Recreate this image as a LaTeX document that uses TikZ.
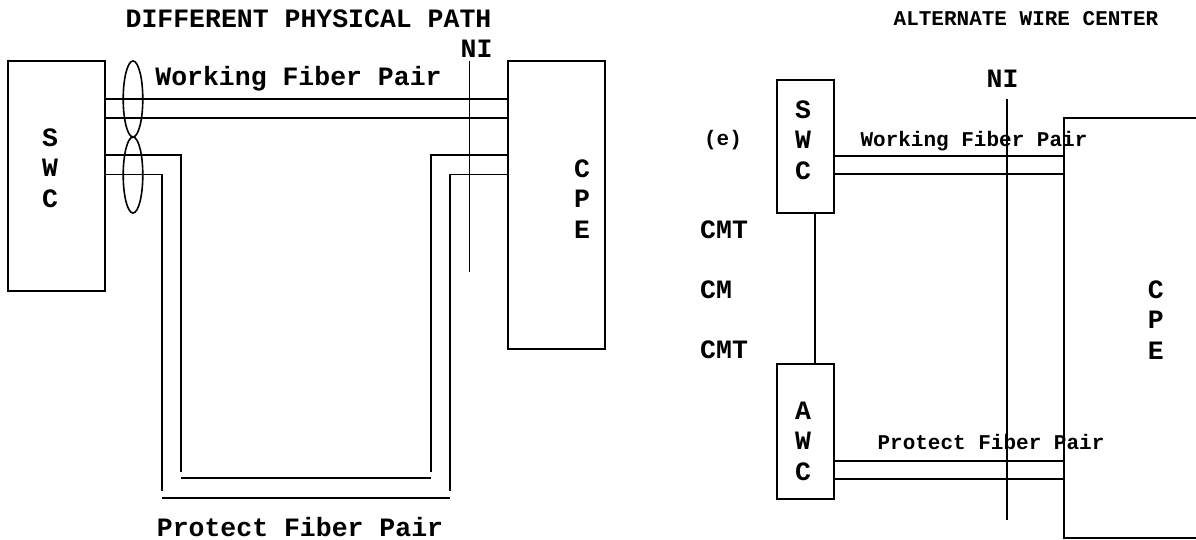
\documentclass[tikz,border=0pt]{standalone}
\usepackage{fontspec}
\setmonofont{Liberation Mono}
\usetikzlibrary{shapes.geometric,calc}

\begin{document}
\begin{tikzpicture}[x=1pt,y=-1pt]
    \tikzstyle{unit} = [rectangle, draw=black, line width=1.8pt, inner sep=0pt]
    \tikzstyle{bundle} = [ellipse, draw=black, line width=1.6pt, inner sep=0pt, minimum width=19.6pt, minimum height=76pt]
    \tikzstyle{fiber} = [line width=1.7pt]
    \tikzstyle{letters} = [align=center, inner sep=0pt, font=\ttfamily\bfseries\fontsize{26.5}{30.5}\selectfont]
    \tikzstyle{big} = [inner sep=0pt, font=\ttfamily\bfseries\fontsize{26.5}{30.5}\selectfont]
    \tikzstyle{small} = [inner sep=0pt, font=\ttfamily\bfseries\fontsize{21}{25}\selectfont]

    \useasboundingbox (0,0) rectangle (1196,540);

    % different physical path
    \node (titleL) [big] at (308.5,18.5) {DIFFERENT PHYSICAL PATH};

    \node (swcL) [unit, minimum width=97pt, minimum height=230pt] at (56.7,176) {};
    \node (swcLtxt) [letters] at (50,168) {S\\W\\C};

    \node (cpeL) [unit, minimum width=97pt, minimum height=288pt] at (556.5,205) {};
    \node (cpeLtxt) [letters] at (582,199) {C\\P\\E};

    \node (wkBundle) [bundle] at (133,99) {};
    \node (ptBundle) [bundle] at (133,175) {};

    \node (niL) [big] at (476.5,48.5) {NI};
    \coordinate (niLtop) at (469.6,61);
    \coordinate (niLend) at (469.6,271.7);
    \draw [fiber] (niLtop) -- (niLend);

    \node (wkL) [big] at (298.5,79) {Working Fiber Pair};
    \node (ptL) [big] at (300,527) {Protect Fiber Pair};

    \draw [fiber] (swcL.east |- 0,98.7) -- (cpeL.west |- 0,98.7);
    \draw [fiber] (swcL.east |- 0,117.7) -- (cpeL.west |- 0,117.7);

    \draw [fiber] (swcL.east |- 0,155) -| (181,471.7);
    \draw [fiber] (181,478) -- (431,478);
    \draw [fiber] (431,471.7) |- (cpeL.west |- 0,155);
    \draw [fiber] (swcL.east |- 0,174.5) -| (162,490.7);
    \draw [fiber] (162,497.7) -- (450,497.7);
    \draw [fiber] (450,490.7) |- (cpeL.west |- 0,174.5);

    % alternate wire center
    \node (titleR) [small] at (1026,18.5) {ALTERNATE WIRE CENTER};

    \node (swcR) [unit, minimum width=57.3pt, minimum height=133pt] at (805.3,146.5) {};
    \node (swcRtxt) [letters] at (803,140) {S\\W\\C};

    \node (awcR) [unit, minimum width=57.3pt, minimum height=134.7pt] at (805.3,431.7) {};
    \node (awcRtxt) [letters] at (803,441) {A\\W\\C};

    \node (cpeR) [unit, minimum width=200pt, minimum height=419.7pt] at (1164.3,328.2) {};
    \node (cpeRtxt) [letters] at (1155.7,320) {C\\P\\E};

    \node (eLbl) [small] at (723,140) {(e)};
    \node (cmtA) [big, anchor=west] at (700,230) {CMT};
    \node (cmB) [big, anchor=west] at (700,290) {CM};
    \node (cmtC) [big, anchor=west] at (700,350) {CMT};

    \draw [fiber] (swcR.south -| 815,0) -- (awcR.north -| 815,0);

    \node (niR) [big] at (1002.5,78.5) {NI};
    \coordinate (niRtop) at (1006.7,99);
    \coordinate (niRend) at (1006.7,520);
    \draw [fiber] (niRtop) -- (niRend);

    \node (wkR) [small] at (974,141) {Working Fiber Pair};
    \node (ptR) [small] at (991,441.5) {Protect Fiber Pair};

    \draw [fiber] (swcR.east |- 0,155.7) -- (cpeR.west |- 0,155.7);
    \draw [fiber] (swcR.east |- 0,174) -- (cpeR.west |- 0,174);
    \draw [fiber] (awcR.east |- 0,460.7) -- (cpeR.west |- 0,460.7);
    \draw [fiber] (awcR.east |- 0,479.3) -- (cpeR.west |- 0,479.3);

\end{tikzpicture}
\end{document}
